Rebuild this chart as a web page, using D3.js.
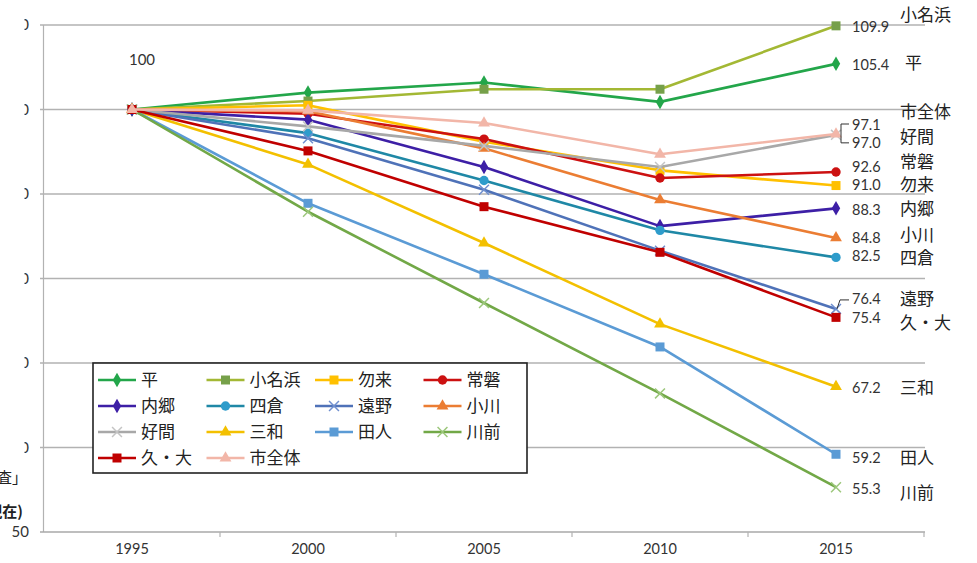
<!DOCTYPE html>
<html>
<head>
<meta charset="utf-8">
<script src="https://cdn.jsdelivr.net/npm/d3@7"></script>
<style>
  html, body { margin: 0; padding: 0; background: #fff; }
  svg { display: block; }
  .num { font-family: Lato, "Open Sans", sans-serif; fill: #333; }
  .jp { font-family: "Noto Sans CJK JP", "Noto Sans", sans-serif; fill: #222; }
</style>
</head>
<body>
<svg id="chart" width="977" height="563"></svg>
<script>
// Population index by district (1995 = 100)
const years = [1995, 2000, 2005, 2010, 2015];
const yTicks = [50, 60, 70, 80, 90, 100, 110];

const seriesNames = ["平", "小名浜", "勿来", "常磐", "内郷", "四倉", "遠野", "小川", "好間", "三和", "田人", "川前", "久・大", "市全体"];

const taira      = [100, 102.0, 103.2, 100.9, 105.4];
const onahama    = [100, 101.0, 102.4, 102.4, 109.9];
const nakoso     = [100, 100.5, 96.2, 92.8, 91.0];
const joban      = [100, 99.5, 96.5, 91.9, 92.6];
const uchigo     = [100, 98.8, 93.2, 86.2, 88.3];
const yotsukura  = [100, 97.2, 91.6, 85.7, 82.5];
const tono       = [100, 96.6, 90.5, 83.3, 76.4];
const ogawa      = [100, 99.8, 95.4, 89.3, 84.8];
const yoshima    = [100, 98.0, 95.7, 93.2, 97.0];
const miwa       = [100, 93.5, 84.2, 74.6, 67.2];
const tabito     = [100, 88.9, 80.5, 71.9, 59.2];
const kawamae    = [100, 87.9, 77.1, 66.4, 55.3];
const hisanohama = [100, 95.1, 88.5, 83.1, 75.4];
const cityTotal  = [100, 99.9, 98.4, 94.7, 97.1];

const seriesValues = [taira, onahama, nakoso, joban, uchigo, yotsukura, tono, ogawa, yoshima, miwa, tabito, kawamae, hisanohama, cityTotal];

// line colour, marker colour, marker shape
const styles = {
  "平":    { line: "#23a64a", mark: "#23a64a", shape: "diamond" },
  "小名浜": { line: "#a3b834", mark: "#76a04a", shape: "square" },
  "勿来":  { line: "#ffc000", mark: "#ffc000", shape: "square" },
  "常磐":  { line: "#cc1111", mark: "#cc1111", shape: "circle" },
  "内郷":  { line: "#3d1fa6", mark: "#3d1fa6", shape: "diamond" },
  "四倉":  { line: "#1f88a6", mark: "#2e9ccb", shape: "circle" },
  "遠野":  { line: "#4f72b8", mark: "#6f8fcf", shape: "x" },
  "小川":  { line: "#eb7d33", mark: "#eb7d33", shape: "triangle" },
  "好間":  { line: "#a8a8a8", mark: "#c4c4c4", shape: "x" },
  "三和":  { line: "#f3c000", mark: "#f3c000", shape: "triangle" },
  "田人":  { line: "#5b9bd5", mark: "#5b9bd5", shape: "square" },
  "川前":  { line: "#72a847", mark: "#9cc77b", shape: "x" },
  "久・大": { line: "#c00000", mark: "#c00000", shape: "square" },
  "市全体": { line: "#f2b6a8", mark: "#f2b6a8", shape: "triangle" }
};

// end-label offsets (px from the last point) for value and name
const endLabelDy = {
  "小名浜": [1, -11], "平": [1, -1], "市全体": [-9.5, -22], "好間": [8.5, 2],
  "常磐": [-5.5, -10], "勿来": [-0.5, -0.5], "内郷": [1.5, 0.5], "小川": [0, -3.5],
  "四倉": [-1, 1], "遠野": [-9.5, -10], "久・大": [1, 6], "三和": [1, 1],
  "田人": [4, 4], "川前": [2, 6]
};

const svg = d3.select("#chart");
const W = 977, H = 563;
svg.append("rect").attr("width", W).attr("height", H).attr("fill", "#fff");

const x = d3.scaleBand().domain(years).range([44, 924]);
const y = d3.scaleLinear().domain([50, 110]).range([532, 25]);
const cx = d => x(d) + x.bandwidth() / 2;

// y tick labels (left edge is mostly covered by the notes panel)
svg.append("g").selectAll("text").data(yTicks).join("text")
  .attr("class", "num")
  .attr("x", 29).attr("y", d => y(d))
  .attr("dy", "0.35em").attr("text-anchor", "end")
  .attr("font-size", 15)
  .text(d => d);

// gridlines
svg.append("g").selectAll("line").data(yTicks.filter(d => d > 50)).join("line")
  .attr("x1", 40).attr("x2", 925)
  .attr("y1", d => y(d)).attr("y2", d => y(d))
  .attr("stroke", "#b2b2b2").attr("stroke-width", 1.6);

// axes
svg.append("line").attr("x1", 43.5).attr("x2", 43.5).attr("y1", y(110)).attr("y2", y(50))
  .attr("stroke", "#b2b2b2").attr("stroke-width", 1.2);
svg.append("line").attr("x1", 40).attr("x2", 925).attr("y1", y(50)).attr("y2", y(50))
  .attr("stroke", "#a8a8a8").attr("stroke-width", 1.6);
const bounds = years.map(d => x(d)).concat([x(years[years.length - 1]) + x.bandwidth()]);
svg.append("g").selectAll("line").data(bounds.slice(1)).join("line")
  .attr("x1", d => d).attr("x2", d => d)
  .attr("y1", y(50)).attr("y2", y(50) + 5)
  .attr("stroke", "#b2b2b2").attr("stroke-width", 1.2);

const xAxis = d3.axisBottom(x).tickSize(0).tickPadding(12);
const gx = svg.append("g").attr("transform", `translate(0,${y(50)})`).call(xAxis);
gx.select(".domain").remove();
gx.selectAll("text").attr("class", "num").attr("font-size", 14.5).style("fill", "#333");

// markers
function marker(g, shape, color, s) {
  if (shape === "x") {
    const r = s * 0.55;
    g.append("path").attr("d", `M${-r},${-r}L${r},${r}M${-r},${r}L${r},${-r}`)
      .attr("stroke", color).attr("stroke-width", 1.5).attr("fill", "none");
    return;
  }
  const types = { diamond: d3.symbolDiamond, square: d3.symbolSquare, circle: d3.symbolCircle, triangle: d3.symbolTriangle };
  const sizes = { diamond: s * s * 0.75, square: s * s, circle: s * s * 0.85, triangle: s * s * 0.75 };
  g.append("path").attr("d", d3.symbol().type(types[shape]).size(sizes[shape])())
    .attr("fill", color);
}

// series lines + markers
const line = d3.line().x((d, i) => cx(years[i])).y(d => y(d));
seriesNames.forEach((name, k) => {
  const vals = seriesValues[k];
  const st = styles[name];
  const g = svg.append("g");
  g.append("path").attr("d", line(vals))
    .attr("fill", "none").attr("stroke", st.line).attr("stroke-width", 2.6)
    .attr("stroke-linejoin", "round");
  vals.forEach((v, i) => {
    const m = g.append("g").attr("transform", `translate(${cx(years[i])},${y(v)})`);
    marker(m, st.shape, st.mark, 9);
  });
});

// start label
svg.append("text").attr("class", "num")
  .attr("x", cx(years[0]) + 10).attr("y", y(100) - 50)
  .attr("text-anchor", "middle").attr("dy", "0.35em")
  .attr("font-size", 15).text(taira[0]);

// end labels
const xLast = cx(years[years.length - 1]);
seriesNames.forEach((name, k) => {
  const v = seriesValues[k][years.length - 1];
  const [dv, dn] = endLabelDy[name];
  svg.append("text").attr("class", "num")
    .attr("x", xLast + 16).attr("y", y(v) + dv).attr("dy", "0.35em")
    .attr("font-size", 14.5).text(v.toFixed(1));
  svg.append("text").attr("class", "jp")
    .attr("x", name === "平" ? xLast + 69 : xLast + 64).attr("y", y(v) + dn).attr("dy", "0.36em")
    .attr("font-size", 17).text(name);
});

// leader lines for crowded end labels
const yCity = y(cityTotal[4]), yYosh = y(yoshima[4]);
svg.append("path")
  .attr("d", `M${xLast + 13},${yCity - 10}H${xLast + 5}V${yYosh + 8}H${xLast + 13}`)
  .attr("fill", "none").attr("stroke", "#333").attr("stroke-width", 1);
const yTono = y(tono[4]);
svg.append("path")
  .attr("d", `M${xLast + 1},${yTono}L${xLast + 4},${yTono - 9}H${xLast + 13}`)
  .attr("fill", "none").attr("stroke", "#333").attr("stroke-width", 1);

// legend
const legX = 93, legY = 363, legW = 434, legH = 110;
const leg = svg.append("g");
leg.append("rect").attr("x", legX).attr("y", legY).attr("width", legW).attr("height", legH)
  .attr("fill", "#fff").attr("stroke", "#222").attr("stroke-width", 1.6);
seriesNames.forEach((name, k) => {
  const col = k % 4, row = Math.floor(k / 4);
  const lx = legX + 5 + col * 108.5, ly = legY + 17 + row * 26;
  const st = styles[name];
  const g = leg.append("g");
  g.append("line").attr("x1", lx).attr("x2", lx + 38).attr("y1", ly).attr("y2", ly)
    .attr("stroke", st.line).attr("stroke-width", 2.6);
  marker(g.append("g").attr("transform", `translate(${lx + 19},${ly})`), st.shape, st.mark, 9);
  g.append("text").attr("class", "jp").attr("x", lx + 43).attr("y", ly).attr("dy", "0.36em")
    .attr("font-size", 17).text(name);
});

// notes panel on the left edge
svg.append("rect").attr("x", 0).attr("y", 0).attr("width", 24.5).attr("height", 522).attr("fill", "#fff");
svg.append("text").attr("class", "jp").attr("x", 27).attr("y", 478).attr("dy", "0.36em")
  .attr("text-anchor", "end").attr("font-size", 15).text("資料：「国勢調査」");
svg.append("text").attr("class", "jp").attr("x", 23).attr("y", 512).attr("dy", "0.36em")
  .attr("text-anchor", "end").attr("font-size", 15).attr("font-weight", "bold").text("（各年10月1日現在)");
</script>
</body>
</html>
